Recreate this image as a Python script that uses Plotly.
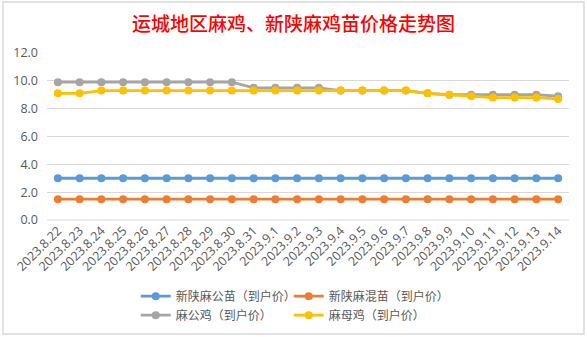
import plotly.graph_objects as go

dates = ["2023.8.22", "2023.8.23", "2023.8.24", "2023.8.25", "2023.8.26", "2023.8.27",
         "2023.8.28", "2023.8.29", "2023.8.30", "2023.8.31", "2023.9.1", "2023.9.2",
         "2023.9.3", "2023.9.4", "2023.9.5", "2023.9.6", "2023.9.7", "2023.9.8",
         "2023.9.9", "2023.9.10", "2023.9.11", "2023.9.12", "2023.9.13", "2023.9.14"]

xinshan_gong = [3.0] * 24
xinshan_hun = [1.5] * 24
ma_gong = [9.9, 9.9, 9.9, 9.9, 9.9, 9.9, 9.9, 9.9, 9.9, 9.5, 9.5, 9.5,
           9.5, 9.3, 9.3, 9.3, 9.3, 9.1, 9.0, 9.0, 9.0, 9.0, 9.0, 8.9]
ma_mu = [9.1, 9.1, 9.3, 9.3, 9.3, 9.3, 9.3, 9.3, 9.3, 9.3, 9.3, 9.3,
         9.3, 9.3, 9.3, 9.3, 9.3, 9.1, 9.0, 8.9, 8.8, 8.8, 8.8, 8.7]

names = ["新陕麻公苗（到户价）", "新陕麻混苗（到户价）", "麻公鸡（到户价）", "麻母鸡（到户价）"]
colors = ["#5B9BD5", "#ED7D31", "#A5A5A5", "#FFC000"]
series = [xinshan_gong, xinshan_hun, ma_gong, ma_mu]
legends = ["legend", "legend", "legend2", "legend2"]

fig = go.Figure()
for name, col, vals, lg in zip(names, colors, series, legends):
    fig.add_trace(go.Scatter(
        x=dates, y=vals, name=name, mode="lines+markers",
        line=dict(color=col, width=2.8),
        marker=dict(color=col, size=8),
        legend=lg,
    ))

txt = "#595959"
legend_common = dict(
    orientation="h", xanchor="left", yanchor="middle",
    font=dict(family="Noto Sans CJK SC", size=12, color=txt),
    entrywidth=108, itemwidth=30, tracegroupgap=0,
    bgcolor="rgba(0,0,0,0)",
)

fig.update_layout(
    width=587, height=337,
    margin=dict(l=47, r=18, t=53, b=117, autoexpand=False),
    paper_bgcolor="white", plot_bgcolor="white",
    title=dict(text="运城地区麻鸡、新陕麻鸡苗价格走势图",
               font=dict(family="Noto Sans CJK SC", size=19, color="#FF0000", weight=500),
               x=0.5, xanchor="center", y=1 - 24 / 337, yanchor="middle"),
    xaxis=dict(type="category", tickangle=-45, showgrid=False, showline=False,
               ticks="", tickfont=dict(family="Open Sans", size=12.5, color=txt),
               range=[-0.5, 23.5], automargin=False),
    yaxis=dict(range=[0, 12], dtick=2, tickformat=".1f", gridcolor="#D9D9D9",
               gridwidth=1, zeroline=False, showline=False, ticks="",
               ticklabelstandoff=8, automargin=False,
               tickfont=dict(family="Open Sans", size=12.5, color=txt)),
    legend=dict(x=0.17, y=-0.456, **legend_common),
    legend2=dict(x=0.17, y=-0.57, **legend_common),
    shapes=[
        dict(type="rect", xref="paper", yref="paper", x0=-44 / 522, x1=1 + 15 / 522,
             y0=-114 / 167, y1=1 + 51 / 167, line=dict(color="#D9D9D9", width=1.5)),
        dict(type="line", xref="paper", yref="paper", x0=0, x1=1, y0=0, y1=0,
             line=dict(color="#D9D9D9", width=1)),
    ],
)

fig.write_html("out.html")
